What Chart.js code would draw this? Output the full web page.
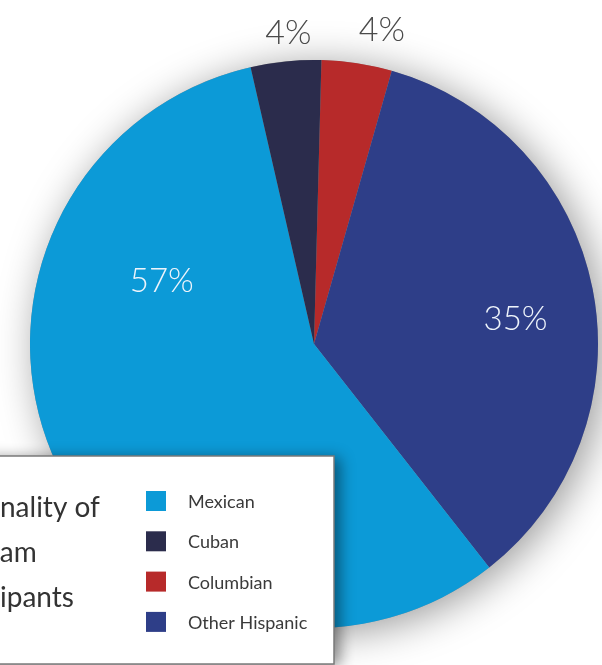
<!DOCTYPE html>
<html>
<head>
<meta charset="utf-8">
<script src="https://cdn.jsdelivr.net/npm/chart.js@4.4.1/dist/chart.umd.min.js"></script>
<style>
  html, body { margin: 0; padding: 0; background: #fff; }
  #wrap { width: 602px; height: 665px; position: relative; overflow: hidden; }
</style>
</head>
<body>
<div id="wrap"><canvas id="pie"></canvas></div>
<script>
// slices in drawing order, clockwise from twelve o'clock
const groups = ["Columbian", "Other Hispanic", "Mexican", "Cuban"];
const shares = [4, 35, 57, 4];
const sliceColors = ["#b72a2a", "#2e3e88", "#0c9ad7", "#2b2c4c"];

// the key lists the groups in a different order
const legendOrder = ["Mexican", "Cuban", "Columbian", "Other Hispanic"];
const titleLines = ["Nationality of", "Program", "Participants"];
// how many leading letters of each title line fall past the left edge
const titleCut = [5, 5, 6];

const FONT = "Lato, 'Open Sans', sans-serif";

// where each percentage sits: radius factor and angle nudge (degrees)
const labelSpots = [
  { f: 1.13, shift: 3.5 },
  { f: 0.715, shift: 4 },
  { f: 0.58, shift: 48 },
  { f: 1.10, shift: 1 }
];

const pieDecor = {
  id: "pieDecor",
  beforeDatasetsDraw(chart) {
    // soft halo behind the pie
    const arc = chart.getDatasetMeta(0).data[0];
    const ctx = chart.ctx;
    ctx.save();
    ctx.shadowColor = "rgba(0,0,0,0.4)";
    ctx.shadowBlur = 40;
    ctx.shadowOffsetX = 7;
    ctx.shadowOffsetY = 5;
    ctx.fillStyle = "#999";
    ctx.beginPath();
    ctx.arc(arc.x, arc.y, arc.outerRadius, 0, Math.PI * 2);
    ctx.fill();
    ctx.restore();
  },
  afterDraw(chart) {
    const ctx = chart.ctx;
    const arcs = chart.getDatasetMeta(0).data;

    // percentage labels
    ctx.save();
    ctx.textAlign = "center";
    ctx.textBaseline = "middle";
    arcs.forEach((el, i) => {
      const spot = labelSpots[i];
      const a = (el.startAngle + el.endAngle) / 2 + spot.shift * Math.PI / 180;
      const r = el.outerRadius * spot.f;
      const x = el.x + Math.cos(a) * r;
      const y = el.y + Math.sin(a) * r;
      const outside = spot.f > 1;
      ctx.font = "300 " + (outside ? 34 : 33) + "px " + FONT;
      ctx.fillStyle = outside ? "#4a4a4a" : "#eef4fb";
      ctx.fillText(shares[i] + "%", x, y);
    });
    ctx.restore();

    // key box, running off the left edge
    const boxL = -20, boxT = 456, boxR = 334, boxB = 664;
    ctx.save();
    ctx.shadowColor = "rgba(0,0,0,0.45)";
    ctx.shadowBlur = 14;
    ctx.shadowOffsetX = 6;
    ctx.shadowOffsetY = 2;
    ctx.fillStyle = "#fff";
    ctx.fillRect(boxL, boxT, boxR - boxL, boxB - boxT);
    ctx.restore();
    ctx.save();
    ctx.strokeStyle = "#7a7a7a";
    ctx.lineWidth = 1.5;
    ctx.strokeRect(boxL, boxT, boxR - boxL, boxB - boxT);

    // title, its start cut off by the edge
    ctx.font = "28px " + FONT;
    ctx.fillStyle = "#333";
    ctx.textBaseline = "alphabetic";
    ctx.textAlign = "left";
    titleLines.forEach((line, i) => {
      const x = -ctx.measureText(line.slice(0, titleCut[i])).width;
      ctx.fillText(line, x, 517 + i * 45);
    });

    // swatches and names
    ctx.font = "18px " + FONT;
    legendOrder.forEach((name, i) => {
      const idx = groups.indexOf(name);
      const top = 491 + i * 40.3;
      ctx.fillStyle = sliceColors[idx];
      ctx.fillRect(146, top, 20, 20);
      ctx.fillStyle = "#3a3a3a";
      ctx.fillText(name, 188, top + 17);
    });
    ctx.restore();
  }
};

new Chart(document.getElementById("pie"), {
  type: "pie",
  data: {
    labels: groups,
    datasets: [{
      data: shares,
      backgroundColor: sliceColors,
      borderWidth: 0
    }]
  },
  options: {
    responsive: true,
    maintainAspectRatio: false,
    animation: false,
    events: [],
    rotation: 1.5,
    layout: { padding: { left: 30, right: 4, top: 60, bottom: 37 } },
    plugins: {
      legend: { display: false },
      tooltip: { enabled: false }
    }
  },
  plugins: [pieDecor]
});
</script>
</body>
</html>
